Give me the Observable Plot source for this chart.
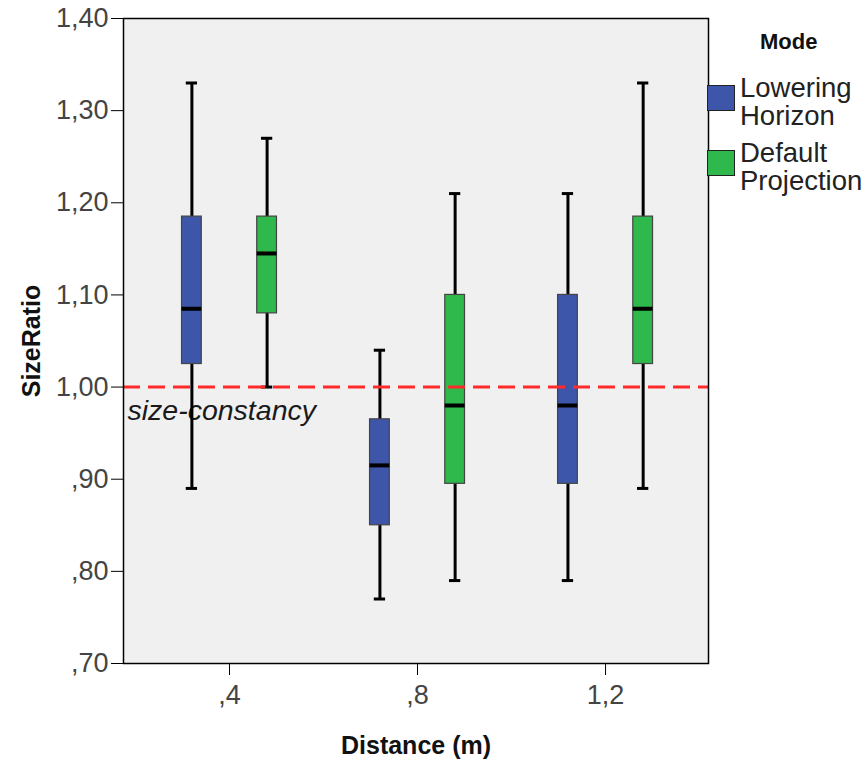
<!DOCTYPE html>
<html><head><meta charset="utf-8">
<script src="https://cdn.jsdelivr.net/npm/d3@7"></script>
<script src="https://cdn.jsdelivr.net/npm/@observablehq/plot@0.6"></script>
<style>
body{margin:0;background:#fff;font-family:"Liberation Sans",Arial,sans-serif;}
#wrap{position:relative;width:867px;height:760px;overflow:hidden;}
#wrap svg{position:absolute;left:0;top:0;}
.lg-title{position:absolute;left:760px;top:31px;font-weight:bold;font-size:22px;line-height:22px;color:#111;}
.lg-sw{position:absolute;left:707px;width:28px;height:26px;border:1.5px solid #222;box-sizing:border-box;}
.lg-tx{position:absolute;left:740px;font-size:27.5px;line-height:28px;color:#222;white-space:nowrap;}
</style></head><body><div id="wrap"></div>
<script>
// ---- data ----
const distances = [0.4, 0.8, 1.2];
const distanceLabels = [",4", ",8", "1,2"];
const modes = ["Lowering Horizon", "Default Projection"];
const modeLegendLines = [["Lowering", "Horizon"], ["Default", "Projection"]];
const modeColors = ["#3d56a9", "#2fb84c"];
const boxDistance = [0.4, 0.4, 0.8, 0.8, 1.2, 1.2];
const boxMode = ["Lowering Horizon", "Default Projection", "Lowering Horizon", "Default Projection", "Lowering Horizon", "Default Projection"];
const whiskerMin = [0.89, 1.00, 0.77, 0.79, 0.79, 0.89];
const quartile1 = [1.025, 1.08, 0.85, 0.895, 0.895, 1.025];
const medians = [1.085, 1.145, 0.915, 0.98, 0.98, 1.085];
const quartile3 = [1.185, 1.185, 0.965, 1.10, 1.10, 1.185];
const whiskerMax = [1.33, 1.27, 1.04, 1.21, 1.21, 1.33];
const yTicks = [0.7, 0.8, 0.9, 1.0, 1.1, 1.2, 1.3, 1.4];
const yTickLabels = [",70", ",80", ",90", "1,00", "1,10", "1,20", "1,30", "1,40"];
const reference = [{value: 1.0, label: "size-constancy"}];

// ---- layout constants (x units) ----
const modeOffset = [-0.08, 0.08];
const boxHalf = 0.021;
const capHalf = 0.012;

const boxes = boxDistance.map((d, i) => ({
  distance: d, mode: boxMode[i], min: whiskerMin[i], q1: quartile1[i],
  median: medians[i], q3: quartile3[i], max: whiskerMax[i]
}));
const xc = b => b.distance + modeOffset[modes.indexOf(b.mode)];

const chart = Plot.plot({
  width: 867, height: 760,
  marginTop: 18, marginRight: 159, marginBottom: 97, marginLeft: 123,
  style: {fontFamily: "'Liberation Sans', Arial, sans-serif", background: "transparent", overflow: "visible"},
  x: {domain: [0.1745, 1.419]},
  y: {domain: [0.7, 1.4]},
  color: {domain: modes, range: modeColors},
  marks: [
    Plot.frame({fill: "#f0f0f0", stroke: "none"}),
    Plot.text(reference, {y: "value", text: "label", frameAnchor: "left", textAnchor: "start", dx: 4, dy: 24, fontSize: 28.5, fontStyle: "italic", fill: "#1a1a1a"}),
    Plot.ruleX(boxes, {x: xc, y1: "min", y2: "max", stroke: "#000", strokeWidth: 3}),
    Plot.ruleY(boxes, {y: "min", x1: b => xc(b) - capHalf, x2: b => xc(b) + capHalf, stroke: "#000", strokeWidth: 3}),
    Plot.ruleY(boxes, {y: "max", x1: b => xc(b) - capHalf, x2: b => xc(b) + capHalf, stroke: "#000", strokeWidth: 3}),
    Plot.rect(boxes, {x1: b => xc(b) - boxHalf, x2: b => xc(b) + boxHalf, y1: "q1", y2: "q3", fill: "mode", stroke: "#444", strokeWidth: 1.2}),
    Plot.ruleY(boxes, {y: "median", x1: b => xc(b) - boxHalf, x2: b => xc(b) + boxHalf, stroke: "#000", strokeWidth: 4}),
    Plot.ruleY(reference, {y: "value", stroke: "#ff2b2b", strokeWidth: 3, strokeDasharray: "17,8"}),
    Plot.axisY({ticks: yTicks, tickFormat: d => yTickLabels[yTicks.indexOf(d)], tickSize: 12, tickPadding: 3, fontSize: 27, stroke: "#000", fill: "#444",
      label: "SizeRatio", labelAnchor: "center", labelOffset: 101, labelArrow: "none"}),
    Plot.axisX({ticks: distances, tickFormat: d => distanceLabels[distances.indexOf(d)], tickSize: 12, tickPadding: 9, fontSize: 27, stroke: "#000", fill: "#444",
      label: "Distance (m)", labelAnchor: "center", labelOffset: 90, labelArrow: "none"}),
    Plot.frame({stroke: "#000", strokeWidth: 1.5})
  ]
});
const wrap = document.getElementById("wrap");
wrap.appendChild(chart);
const svg = d3.select(chart);
["y-axis label", "x-axis label"].forEach(a => {
  svg.selectAll(`[aria-label="${a}"]`).attr("font-weight", "bold").attr("fill", "#111").attr("font-size", 25)
    .selectAll("text").attr("font-weight", "bold").attr("fill", "#111").attr("font-size", 25);
});

// ---- legend ----
const lg = d3.select(wrap);
lg.append("div").attr("class", "lg-title").text("Mode");
const swTop = [85, 150];
const txTop = [74, 139];
modes.forEach((m, i) => {
  lg.append("div").attr("class", "lg-sw").style("top", swTop[i] + "px").style("background", modeColors[i]);
  lg.append("div").attr("class", "lg-tx").style("top", txTop[i] + "px").html(modeLegendLines[i].join("<br>"));
});
</script></body></html>
